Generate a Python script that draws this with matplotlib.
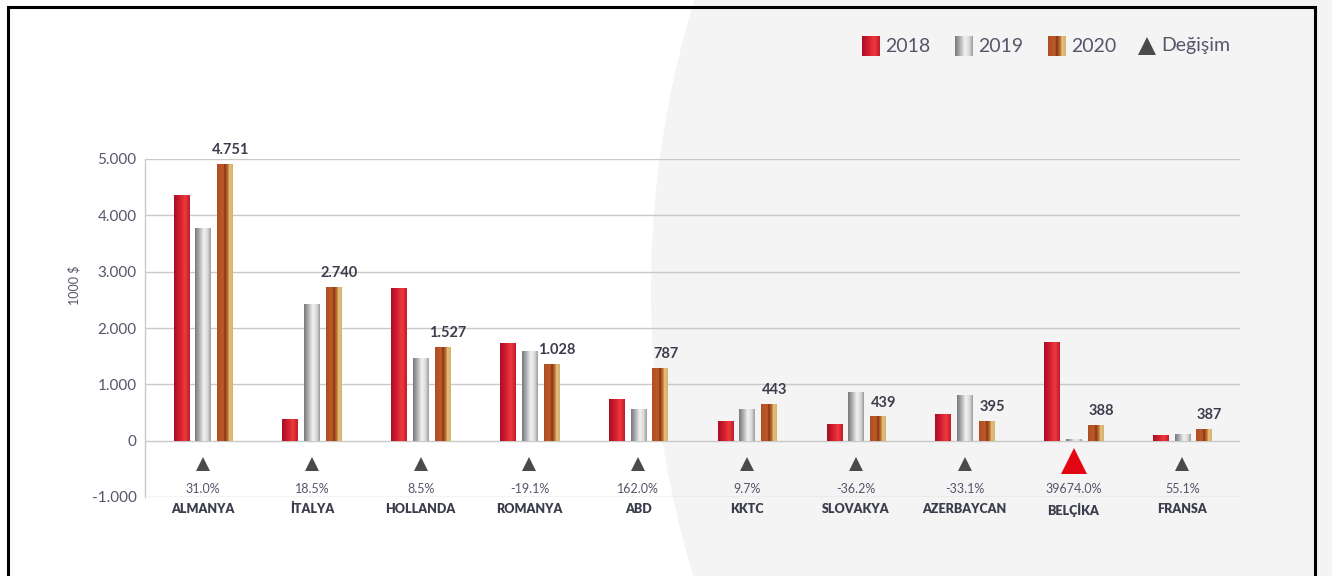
import numpy as np
import matplotlib
matplotlib.use("Agg")
import matplotlib.pyplot as plt
from matplotlib.colors import LinearSegmentedColormap
from matplotlib.patches import Ellipse, Rectangle, Polygon
from matplotlib.ticker import FuncFormatter, FixedLocator

plt.rcParams['font.family'] = ['Lato', 'DejaVu Sans']

# ---------------- data ----------------
countries = ["ALMANYA", "İTALYA", "HOLLANDA", "ROMANYA", "ABD", "KKTC",
             "SLOVAKYA", "AZERBAYCAN", "BELÇİKA", "FRANSA"]
v2018 = [4357, 390, 2714, 1732, 732, 357, 304, 482, 1750, 107]
v2019 = [3768, 2429, 1464, 1589, 571, 554, 857, 804, 30, 125]
v2020 = [4920, 2732, 1661, 1357, 1286, 643, 429, 357, 286, 214]
labels2020 = ["4.751", "2.740", "1.527", "1.028", "787", "443", "439", "395", "388", "387"]
changes = ["31.0%", "18.5%", "8.5%", "-19.1%", "162.0%", "9.7%", "-36.2%",
           "-33.1%", "39674.0%", "55.1%"]
highlight = "BELÇİKA"
series_names = ["2018", "2019", "2020"]
change_name = "Değişim"
yticks = [-1000, 0, 1000, 2000, 3000, 4000, 5000]
ylabel = "1000 $"

# ---------------- style ----------------
W, H = 1332, 576
cm_red = LinearSegmentedColormap.from_list("r", [(0, "#a80e26"), (0.35, "#d01c2e"),
                                                  (0.7, "#ee3a3c"), (1, "#c21a2c")])
cm_gray = LinearSegmentedColormap.from_list("g", [(0, "#76787b"), (0.3, "#b4b5b7"),
                                                   (0.55, "#f2f2f2"), (0.8, "#d9d9d9"),
                                                   (1, "#9c9d9f")])
cm_orng = LinearSegmentedColormap.from_list("o", [(0, "#b04e22"), (0.4, "#bb5a2a"),
                                                   (0.5, "#7a3210"), (0.6, "#b9582a"),
                                                   (0.72, "#c47a3a"), (0.76, "#e2c27e"),
                                                   (1, "#d6b26c")])
cmaps = [cm_red, cm_gray, cm_orng]
txt_col = "#55566a"
dark_txt = "#3c3d4c"
grid_col = "#c9c9c9"

fig = plt.figure(figsize=(W / 100, H / 100), dpi=100)
fig.patch.set_facecolor("white")

# background circle
fig.patches.append(Ellipse((1641 / W, 1 - 290 / H), 2 * 990 / W, 2 * 990 / H,
                           transform=fig.transFigure, facecolor="#f4f4f4",
                           edgecolor="none", zorder=-10))
# frame
fig.patches.append(Rectangle((8 / W, -0.05), (1315 - 8) / W, 1.05 - 7.5 / H,
                             transform=fig.transFigure, facecolor="none",
                             edgecolor="black", linewidth=2.2, zorder=10))

# axes
x_left, x_right = 145, 1240
y_top, y_bot = 159, 497
ax = fig.add_axes([x_left / W, 1 - y_bot / H, (x_right - x_left) / W, (y_bot - y_top) / H])
ax.set_zorder(1)
ax.patch.set_alpha(0)

n = len(countries)
x = np.arange(n)
offsets = [-0.2, 0.0, 0.2]
bw = 0.14
grad = np.linspace(0, 1, 64).reshape(1, -1)

orange_bars = None
for k, vals in enumerate([v2018, v2019, v2020]):
    bars = ax.bar(x + offsets[k], vals, width=bw, color="none", edgecolor="none", zorder=3)
    for b in bars:
        x0, w, h = b.get_x(), b.get_width(), b.get_height()
        im = ax.imshow(grad, extent=[x0, x0 + w, 0, h], aspect="auto",
                       cmap=cmaps[k], zorder=3, interpolation="bilinear")
        im.set_clip_path(b)
    if k == 2:
        orange_bars = bars

# value labels
for b, lab in zip(orange_bars, labels2020):
    ax.annotate(lab, (b.get_x() + b.get_width() / 2, b.get_height()),
                xytext=(4, 5), textcoords="offset points", ha="center", va="bottom",
                fontsize=10.5, fontweight="bold", color=dark_txt, clip_on=False, zorder=5)

# change markers
tri_y = -420
for i, c in enumerate(countries):
    if c == highlight:
        ax.plot(x[i], tri_y + 60, marker="^", markersize=19, color="#e30613",
                markeredgewidth=0, zorder=4, clip_on=False)
    else:
        ax.plot(x[i], tri_y, marker="^", markersize=10, color="#4a4a4a",
                markeredgewidth=0, zorder=4)
    ax.annotate(changes[i], (x[i], -1000), xytext=(0, 1.5), textcoords="offset points",
                ha="center", va="bottom", fontsize=9, color=txt_col)

# axes styling
ax.set_xlim(-0.533, 9.53)
ax.set_ylim(-1000, 5000)
ax.yaxis.set_major_locator(FixedLocator(yticks))
ax.yaxis.set_major_formatter(FuncFormatter(lambda v, p: f"{int(v):,}".replace(",", ".")))
ax.grid(axis="y", color=grid_col, linewidth=1.0, zorder=1)
ax.set_axisbelow(True)
for s in ["top", "right", "bottom"]:
    ax.spines[s].set_visible(False)
ax.spines["left"].set_color(grid_col)
ax.spines["left"].set_linewidth(1.0)
ax.tick_params(axis="y", length=0, pad=6, labelsize=11, labelcolor=txt_col)
ax.set_xticks(x)
ax.set_xticklabels(countries, fontsize=9, fontweight="heavy", color=dark_txt)
ax.tick_params(axis="x", length=0, pad=4)
ax.set_ylabel(ylabel, fontsize=9, color=txt_col)
ax.yaxis.set_label_coords((80 - x_left) / (x_right - x_left), (y_bot - 285) / (y_bot - y_top))

# legend (manual)
leg_items = [(862, series_names[0], 0), (955, series_names[1], 1), (1048, series_names[2], 2)]
ly = 46
for px, name, k in leg_items:
    lax = fig.add_axes([px / W, 1 - (ly + 10) / H, 18 / W, 20 / H])
    lax.set_zorder(2)
    lax.imshow(grad, aspect="auto", cmap=cmaps[k], interpolation="bilinear")
    lax.axis("off")
    fig.text((px + 23) / W, 1 - ly / H, name, fontsize=14, color=txt_col,
             ha="left", va="center")
fig.patches.append(Polygon([[1138 / W, 1 - 55 / H], [1156 / W, 1 - 55 / H],
                            [1147 / W, 1 - 37 / H]], closed=True,
                           transform=fig.transFigure, facecolor="#4a4a4a",
                           edgecolor="none", zorder=5))
fig.text(1161 / W, 1 - ly / H, change_name, fontsize=14, color=txt_col,
         ha="left", va="center")

fig.savefig("out.png", dpi=100)
